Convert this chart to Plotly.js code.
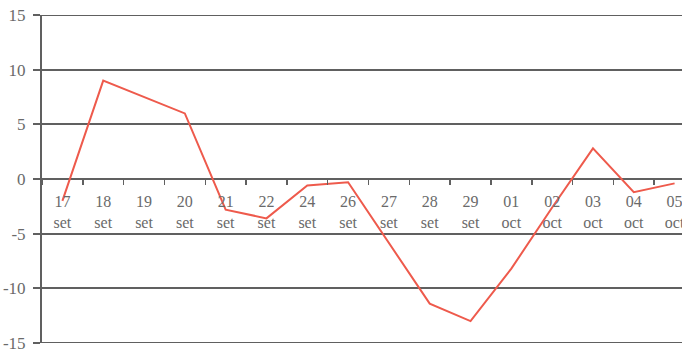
<!DOCTYPE html>
<html>
<head>
<meta charset="utf-8">
<script src="https://cdn.plot.ly/plotly-3.0.1.min.js"></script>
<style>
html,body{margin:0;padding:0;overflow:hidden;background:#fff;width:682px;height:351px;}
#chart{width:700px;height:362px;}
</style>
</head>
<body>
<div id="chart"></div>
<script>
var days = ["17","18","19","20","21","22","24","26","27","28","29","01","02","03","04","05"];
var months = ["set","set","set","set","set","set","set","set","set","set","set","oct","oct","oct","oct","oct"];
var values = [-2.0, 9.0, null, 6.0, -2.8, -3.6, -0.6, -0.3, null, -11.4, -13.0, -8.2, -2.6, 2.8, -1.2, -0.4];
var yTicks = [-15, -10, -5, 0, 5, 10, 15];

var categories = days.map(function(d, i){ return d + "<br>" + months[i]; });
var FONT = "Liberation Serif, Times New Roman, serif";
var GRID = "#606060";

var trace = {
  type: "scatter",
  mode: "lines",
  x: categories,
  y: values,
  connectgaps: true,
  line: {color: "#EE5A4C", width: 2},
  hoverinfo: "skip"
};

var edgeShapes = [yTicks[0], yTicks[yTicks.length - 1]].map(function(v){
  return {type: "line", xref: "paper", yref: "y", x0: -7/653, x1: 1, y0: v, y1: v,
          line: {color: GRID, width: 2}, layer: "below"};
});

var layout = {
  width: 700,
  height: 362,
  margin: {l: 42, r: 5, t: 15, b: 19},
  paper_bgcolor: "#ffffff",
  plot_bgcolor: "#ffffff",
  showlegend: false,
  font: {family: FONT, color: "#6a6a6a"},
  shapes: edgeShapes,
  xaxis: {
    type: "category",
    anchor: "free",
    position: 0.5,
    range: [-0.5, 15.5],
    showgrid: false,
    zeroline: false,
    showline: false,
    ticks: "outside",
    tickson: "boundaries",
    ticklen: 5,
    tickwidth: 1.5,
    tickcolor: GRID,
    tickfont: {size: 16, color: "#6a6a6a", family: FONT},
    ticklabelstandoff: 11,
    fixedrange: true
  },
  yaxis: {
    range: [-15, 15],
    tickvals: yTicks,
    ticktext: yTicks.map(String),
    showgrid: true,
    gridcolor: GRID,
    gridwidth: 2,
    zeroline: false,
    showline: true,
    linecolor: GRID,
    linewidth: 2,
    ticks: "outside",
    ticklen: 7,
    tickwidth: 2,
    tickcolor: GRID,
    tickfont: {size: 17, color: "#6a6a6a", family: FONT},
    ticklabelstandoff: 4,
    fixedrange: true
  }
};

Plotly.newPlot("chart", [trace], layout, {displayModeBar: false, staticPlot: true});
</script>
</body>
</html>
